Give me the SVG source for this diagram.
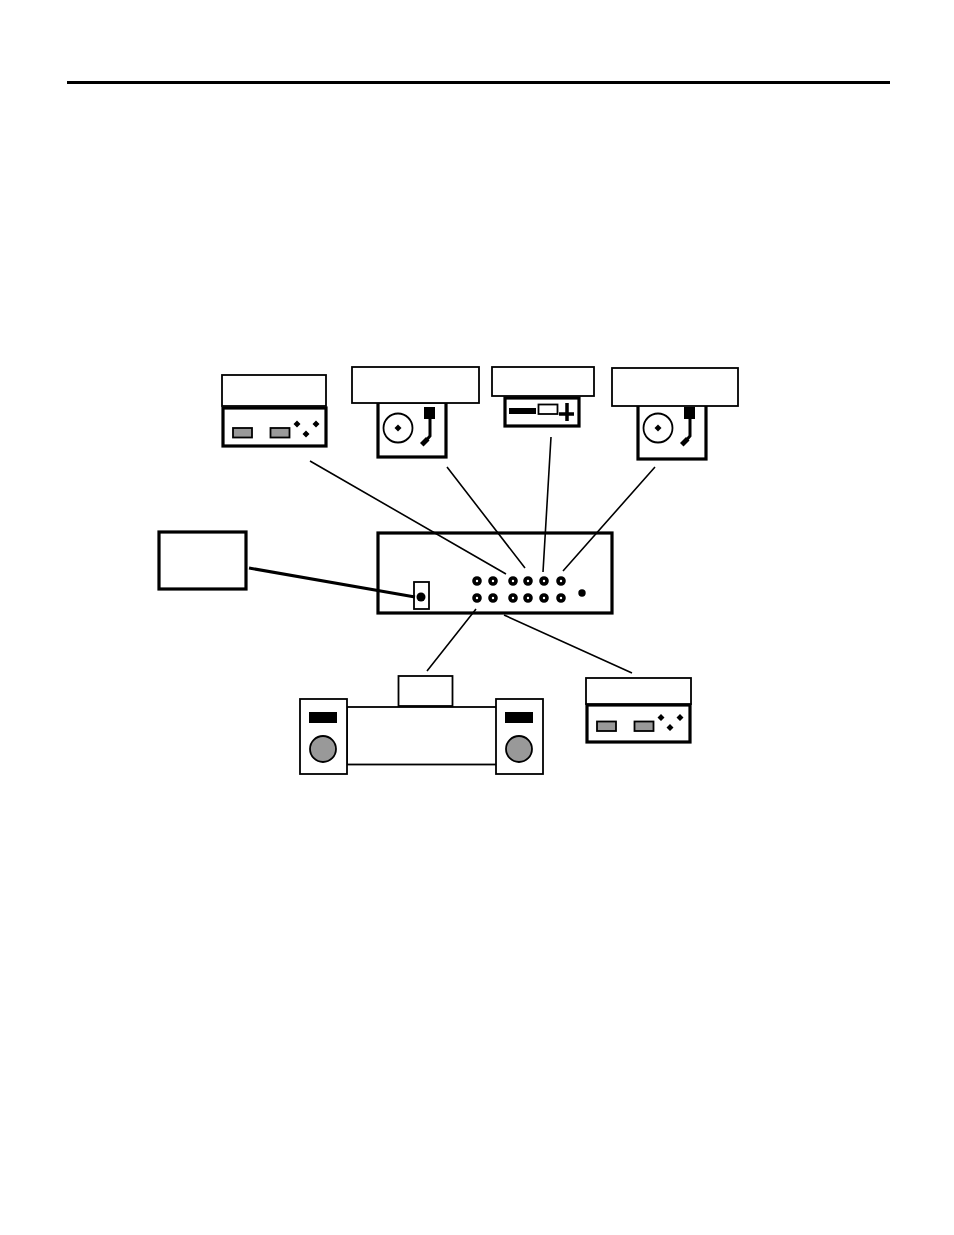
<svg xmlns="http://www.w3.org/2000/svg" width="954" height="1235" viewBox="0 0 954 1235">
<defs>
<style>
.thick{fill:#fff;stroke:#000;stroke-width:3.200}
.thin{fill:#fff;stroke:#000;stroke-width:1.800}
.conn{fill:none;stroke:#000;stroke-width:1.600}
.btn{fill:#999;stroke:#000;stroke-width:1.800}
.jack{fill:#fff;stroke:#000;stroke-width:3.600}
</style>
<g id="deck"><rect class="btn" x="10" y="20" width="19" height="9.500"/><rect class="btn" x="47.500" y="20" width="19" height="9.500"/><path d="M74 12.500l3.500 3.500-3.500 3.500-3.500-3.500zM93 12.500l3.500 3.500-3.500 3.500-3.500-3.500zM83 22.500l3.500 3.500-3.500 3.500-3.500-3.500z"/></g>
<g id="turntable"><circle cx="20" cy="26" r="14.500" fill="#fff" stroke="#000" stroke-width="1.800"/><path d="M20 22.500l3.500 3.500-3.500 3.500-3.500-3.500z"/><rect x="46" y="5" width="11" height="12"/><path d="M52 17V34L46 41" fill="none" stroke="#000" stroke-width="3"/><path d="M48 35l3.500 3.500-6 6-3.500-3.500z"/></g>
<g id="speaker"><rect class="thin" x="0" y="0" width="47" height="75"/><rect x="9" y="13" width="28" height="11"/><circle cx="23" cy="50" r="13" fill="#999" stroke="#000" stroke-width="1.800"/></g>
</defs>
<rect width="954" height="1235" fill="#fff"/>
<rect id="rule" x="67" y="81" width="823" height="3"/>
<g id="top-left-deck"><rect class="thick" x="223" y="408" width="103" height="38"/><use href="#deck" x="223" y="408"/><rect class="thin" x="222" y="375" width="104" height="31"/></g>
<g id="left-turntable"><rect class="thick" x="378" y="402" width="68" height="55"/><use href="#turntable" x="378" y="402"/><rect class="thin" x="352" y="367" width="127" height="36"/></g>
<g id="cd-unit"><rect class="thick" x="505" y="398" width="74" height="28"/><rect x="509" y="408" width="27" height="6"/><rect class="thin" x="538.500" y="404.500" width="19" height="9.500"/><path d="M559 414H574M567 403V421" fill="none" stroke="#000" stroke-width="3.500"/><rect class="thin" x="492" y="367" width="102" height="29"/></g>
<g id="right-turntable"><rect class="thick" x="638" y="404" width="68" height="55"/><use href="#turntable" x="638" y="402"/><rect class="thin" x="612" y="368" width="126" height="38"/></g>
<g id="antenna-box"><rect class="thick" x="159" y="532" width="87" height="57"/></g>
<g id="receiver">
<rect class="thick" x="378" y="533" width="234" height="80"/>
<rect class="thin" x="414" y="582" width="15" height="27"/>
<circle cx="421" cy="597" r="4.500"/>
<g id="jacks">
<circle class="jack" cx="477" cy="581" r="3"/><circle class="jack" cx="493" cy="581" r="3"/><circle class="jack" cx="513" cy="581" r="3"/><circle class="jack" cx="528" cy="581" r="3"/><circle class="jack" cx="544" cy="581" r="3"/><circle class="jack" cx="561" cy="581" r="3"/>
<circle class="jack" cx="477" cy="598" r="3"/><circle class="jack" cx="493" cy="598" r="3"/><circle class="jack" cx="513" cy="598" r="3"/><circle class="jack" cx="528" cy="598" r="3"/><circle class="jack" cx="544" cy="598" r="3"/><circle class="jack" cx="561" cy="598" r="3"/>
</g>
<circle cx="582" cy="593" r="3.700"/>
</g>
<g id="speaker-system">
<rect class="thin" x="347" y="707" width="150" height="57.500"/>
<use href="#speaker" x="300" y="699"/><use href="#speaker" x="496" y="699"/>
<rect class="thin" x="398.500" y="676" width="54" height="30"/>
</g>
<g id="bottom-right-deck"><rect class="thick" x="587" y="705" width="103" height="37"/><use href="#deck" x="587" y="701.500"/><rect class="thin" x="586" y="678" width="105" height="26"/></g>
<g id="connectors">
<path class="conn" d="M310 461L506 574M447 467L525 568M551 437L543 572M655 467L563 571M476 609L427 671M504 615L632 673"/>
<path d="M249 568L415 597" fill="none" stroke="#000" stroke-width="3"/>
</g>
</svg>
